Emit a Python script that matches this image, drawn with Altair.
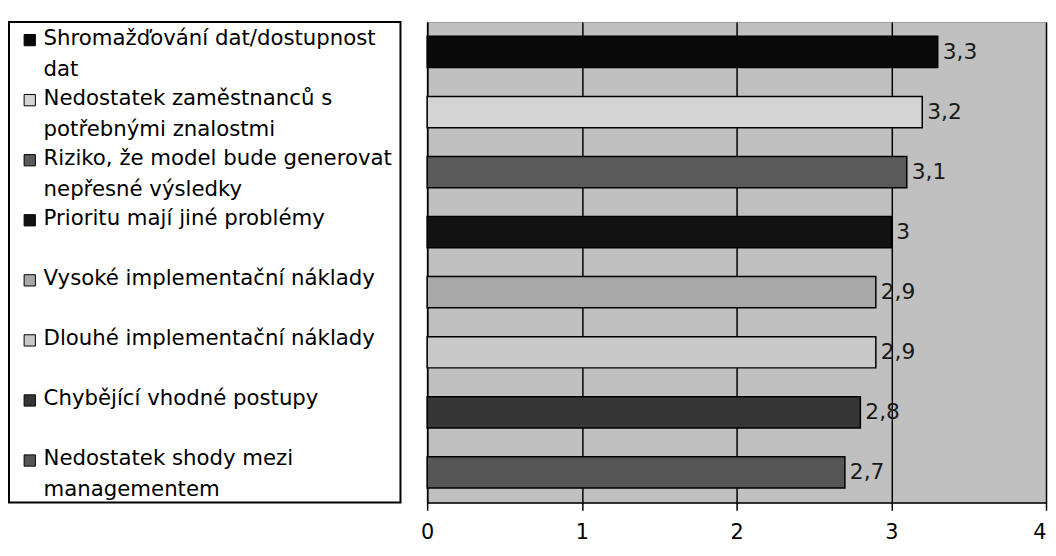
import altair as alt
import pandas as pd

categories = ["c1", "c2", "c3", "c4", "c5", "c6", "c7", "c8"]
legend_labels = [
    "Shromažďování dat/dostupnost\ndat",
    "Nedostatek zaměstnanců s\npotřebnými znalostmi",
    "Riziko, že model bude generovat\nnepřesné výsledky",
    "Prioritu mají jiné problémy",
    "Vysoké implementační náklady",
    "Dlouhé implementační náklady",
    "Chybějící vhodné postupy",
    "Nedostatek shody mezi\nmanagementem",
]
values = [3.3, 3.2, 3.1, 3.0, 2.9, 2.9, 2.8, 2.7]
colors = ["#0a0a0a", "#d4d4d4", "#5a5a5a", "#121212", "#a8a8a8", "#c8c8c8", "#363636", "#565656"]
x_ticks = [0, 1, 2, 3, 4]

df = pd.DataFrame({
    "cat": categories,
    "legend": legend_labels,
    "value": values,
    "label": [f"{v:g}".replace(".", ",") for v in values],
})

FONT = "DejaVu Sans"
color_scale = alt.Scale(domain=categories, range=colors)

# ---- custom legend panel ----
ysc_leg = alt.Scale(domain=categories, paddingInner=0, paddingOuter=0)
leg_base = alt.Chart(df)
leg_marks = leg_base.mark_square(size=130, stroke="black", strokeWidth=1, opacity=1, yOffset=-12).encode(
    x=alt.value(21),
    y=alt.Y("cat:N", scale=ysc_leg, axis=None, sort=None),
    color=alt.Color("cat:N", scale=color_scale, legend=None),
)
leg_text = leg_base.mark_text(
    align="left", baseline="top", dy=-24, font=FONT, fontSize=21.5,
    lineBreak="\n", lineHeight=31, color="black",
).encode(
    x=alt.value(35),
    y=alt.Y("cat:N", scale=ysc_leg, axis=None, sort=None),
    text="legend:N",
)
legend = alt.layer(leg_marks, leg_text).properties(
    width=396, height=486,
    view=alt.ViewBackground(fill="white", stroke="black", strokeWidth=2),
)

# ---- bar panel ----
ysc = alt.Scale(domain=categories, paddingInner=0.48, paddingOuter=0.24)
xsc = alt.Scale(domain=[0, 4], nice=False)
bars = alt.Chart(df).mark_bar(stroke="black", strokeWidth=1.5).encode(
    x=alt.X("value:Q", scale=xsc, axis=alt.Axis(
        values=x_ticks, format="d", grid=True, gridColor="black", gridWidth=1.5,
        domainColor="black", domainWidth=1.5, tickColor="black", tickSize=8, tickWidth=1.5,
        labelFont=FONT, labelFontSize=21, labelColor="black", labelPadding=12, title=None,
        labelAlign={"condition": {"test": "datum.value == 4", "value": "right"}, "value": "center"})),
    y=alt.Y("cat:N", scale=ysc, sort=None, axis=alt.Axis(
        labels=False, ticks=False, domainColor="black", domainWidth=1.5, title=None, grid=False)),
    color=alt.Color("cat:N", scale=color_scale, legend=None),
)
texts = alt.Chart(df).mark_text(
    align="left", baseline="middle", dx=5, font=FONT, fontSize=22, color="#1a1a1a"
).encode(
    x=alt.X("value:Q", scale=xsc),
    y=alt.Y("cat:N", scale=ysc, sort=None),
    text="label:N",
)
barchart = alt.layer(bars, texts).properties(
    width=626, height=486,
    view=alt.ViewBackground(fill="#c0c0c0", stroke="#9a9a9a", strokeWidth=1),
)

chart = alt.hconcat(legend, barchart, spacing=18).properties(
    padding={"left": 0, "top": 10, "right": 0, "bottom": 0},
    background="white",
)

chart.save("out.html", embed_options={"renderer": "svg", "actions": False})
